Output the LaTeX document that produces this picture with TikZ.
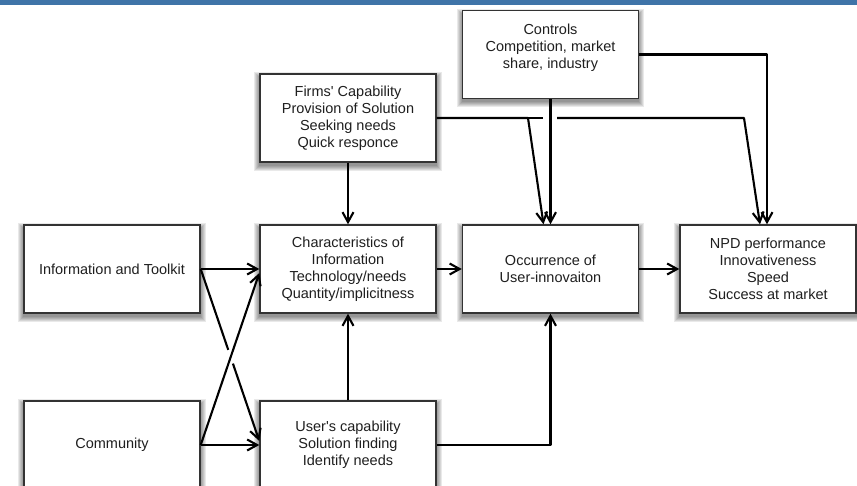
\documentclass[tikz,border=0pt]{standalone}
\usepackage{fontspec}
\setmainfont{Liberation Sans}
\usetikzlibrary{arrows.meta,calc}
\definecolor{topbar}{RGB}{63,116,168}
\pgfdeclarelayer{shadowlayer}
\pgfsetlayers{shadowlayer,main}
\begin{document}
\begin{tikzpicture}[x=1pt,y=-1pt,
  box/.style={draw=black!80, line width=1.4pt, fill=white,
    minimum width=176pt, minimum height=88pt, align=center, inner sep=2pt,
    font=\fontsize{14.5}{17}\selectfont, text=black!88},
  softshade/.style={fill=black, opacity=0.085},
  link/.style={line width=2.1pt, draw=black, line join=round},
  arr/.style={link, -{Straight Barb[length=10pt,width=11pt]}}]

\path[use as bounding box, clip] (0,0) rectangle (857,486);
\fill[topbar] (0,0) rectangle (857,5);

% boxes
\node[box] (ctrl)  at (550.5,54.5) {Controls\\Competition, market\\share, industry\\\mbox{}};
\node[box] (firms) at (348,118) {Firms\textquotesingle\ Capability\\Provision of Solution\\Seeking needs\\Quick responce};
\node[box] (info)  at (112,269) {Information and Toolkit};
\node[box] (chr)   at (348,269) {Characteristics of\\Information\\Technology/needs\\Quantity/implicitness};
\node[box] (occ)   at (550.5,269) {Occurrence of\\User-innovaiton};
\node[box] (npd)   at (768,269) {NPD performance\\Innovativeness\\Speed\\Success at market};
\node[box] (comm)  at (112,445) {Community};
\node[box] (user)  at (348,445) {User\textquotesingle s capability\\Solution finding\\Identify needs};

% soft drop shadows under every box
\begin{pgfonlayer}{shadowlayer}
  \foreach \n in {ctrl,firms,info,chr,occ,npd,comm,user}
    \foreach \r in {0,...,5}
      \fill[softshade] ($(\n.north west)+(-\r,4-\r)$) rectangle ($(\n.south east)+(\r,3+\r)$);
\end{pgfonlayer}

% helper points
\coordinate (ue) at ([yshift=4pt]user.west);
\coordinate (cw) at ([yshift=-4pt]chr.west);
\coordinate (fb) at (528,118);
\coordinate (gl) at (543,118);
\coordinate (gr) at (557,118);
\coordinate (fk) at (744,118);

% left inputs
\draw[arr] (info.east) -- (chr.west);
\draw[arr] (comm.east) -- (user.west);
\draw[link] (info.east) -- ($(info.east)!0.47!(ue)$);
\draw[arr] ($(info.east)!0.55!(ue)$) -- (ue);
\draw[arr] (comm.east) -- (cw);

% middle column
\draw[arr] (firms.south) -- (chr.north);
\draw[arr] (user.north) -- (chr.south);
\draw[arr] (user.east) -| (occ.south);
\draw[arr] (chr.east) -- (occ.west);
\draw[arr] (occ.east) -- (npd.west);

% controls
\draw[arr] (ctrl.south) -- (occ.north);
\draw[arr] (ctrl.east) -| ([xshift=-1pt]npd.north);

% firms' capability to outcomes
\draw[arr] (firms.east) -- (fb) -- ([xshift=-7pt]occ.north);
\draw[link] (fb) -- (gl);
\draw[arr] (gr) -- (fk) -- ([xshift=-8pt]npd.north);
\end{tikzpicture}
\end{document}
